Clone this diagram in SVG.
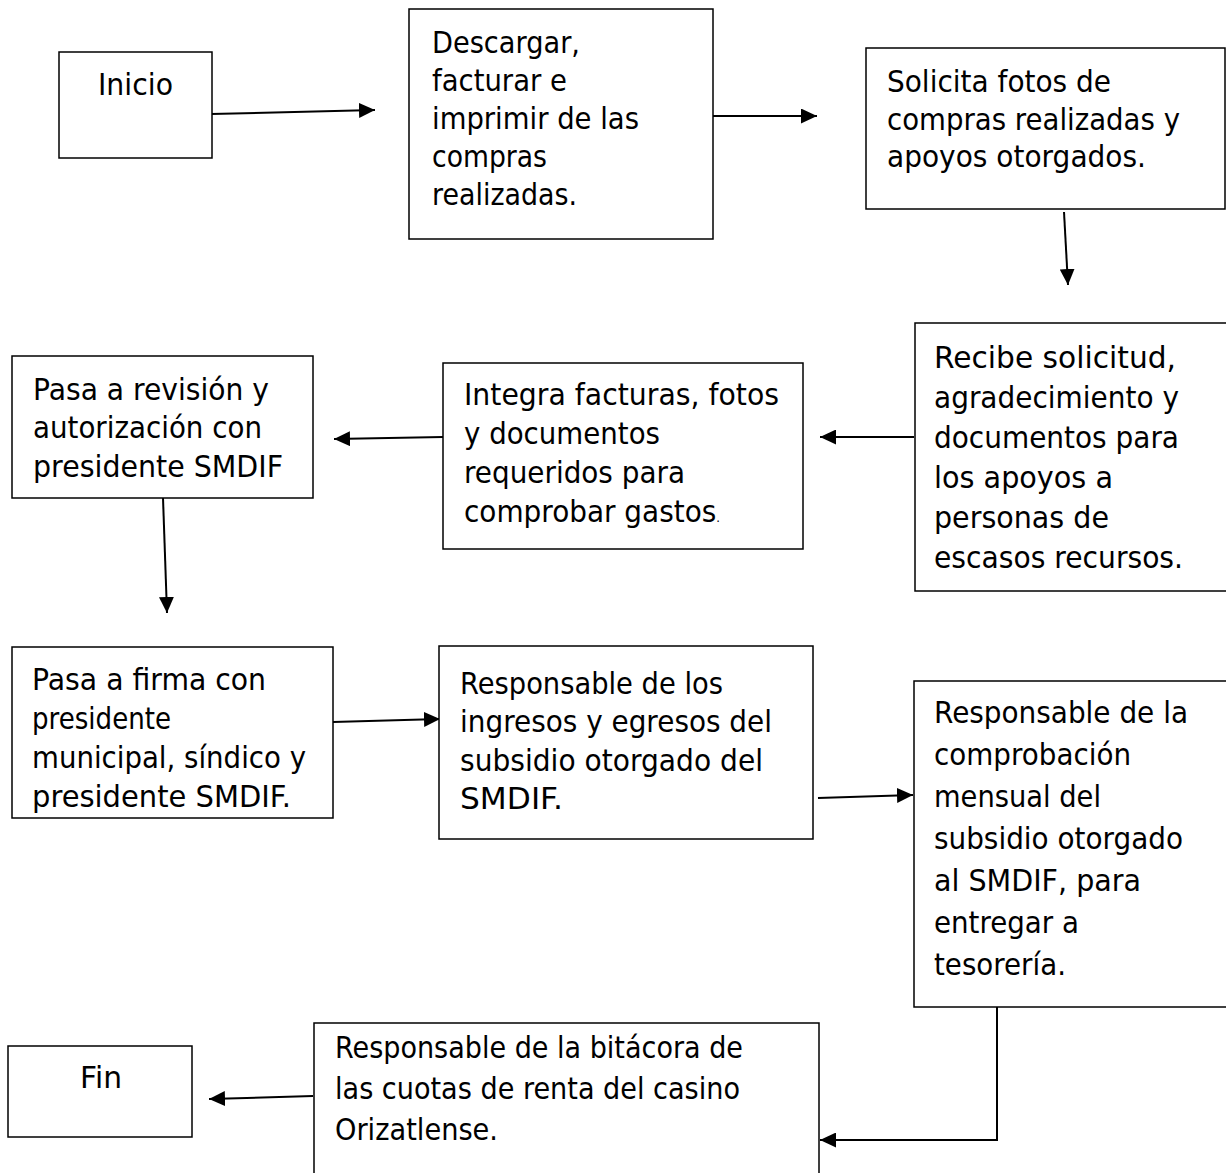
<svg xmlns="http://www.w3.org/2000/svg" width="1226" height="1173" viewBox="0 0 1226 1173">
<style>
.box{fill:#fff;stroke:#000;stroke-width:1.5}
.t{font-family:"DejaVu Sans","Liberation Sans",sans-serif;font-size:31px;fill:#000}
.c{fill:none;stroke:#000;stroke-width:2}
</style>
<defs>
<marker id="ah" markerUnits="userSpaceOnUse" markerWidth="16" markerHeight="15" refX="16" refY="7.5" orient="auto" viewBox="0 0 16 15">
<path d="M0,0 L16,7.5 L0,15 z" fill="#000"/>
</marker>
</defs>
<rect width="1226" height="1173" fill="#fff"/>
<g id="connectors">
<line class="c" x1="211" y1="114" x2="375" y2="110" marker-end="url(#ah)"/>
<line class="c" x1="713" y1="116" x2="817" y2="116" marker-end="url(#ah)"/>
<line class="c" x1="1064" y1="212" x2="1068" y2="285" marker-end="url(#ah)"/>
<line class="c" x1="914" y1="437" x2="820" y2="437" marker-end="url(#ah)"/>
<line class="c" x1="443" y1="437" x2="334" y2="439" marker-end="url(#ah)"/>
<line class="c" x1="163" y1="498" x2="167" y2="613" marker-end="url(#ah)"/>
<line class="c" x1="333" y1="722" x2="440" y2="719" marker-end="url(#ah)"/>
<line class="c" x1="818" y1="798" x2="913" y2="795" marker-end="url(#ah)"/>
<polyline class="c" points="997,1007 997,1140 820,1140" marker-end="url(#ah)"/>
<line class="c" x1="313" y1="1096" x2="209" y2="1099" marker-end="url(#ah)"/>
</g>
<g id="inicio">
<rect class="box" x="59" y="52" width="153" height="106"/>
<text class="t" x="98" y="95" textLength="75" lengthAdjust="spacingAndGlyphs">Inicio</text>
</g>
<g id="descargar">
<rect class="box" x="409" y="9" width="304" height="230"/>
<text class="t" x="432" y="53" textLength="148" lengthAdjust="spacingAndGlyphs">Descargar,</text>
<text class="t" x="432" y="91" textLength="135" lengthAdjust="spacingAndGlyphs">facturar e</text>
<text class="t" x="432" y="129" textLength="207" lengthAdjust="spacingAndGlyphs">imprimir de las</text>
<text class="t" x="432" y="167" textLength="115" lengthAdjust="spacingAndGlyphs">compras</text>
<text class="t" x="432" y="205" textLength="145" lengthAdjust="spacingAndGlyphs">realizadas.</text>
</g>
<g id="solicita">
<rect class="box" x="866" y="48" width="359" height="161"/>
<text class="t" x="887" y="92" textLength="224" lengthAdjust="spacingAndGlyphs">Solicita fotos de</text>
<text class="t" x="887" y="130" textLength="293" lengthAdjust="spacingAndGlyphs">compras realizadas y</text>
<text class="t" x="887" y="167" textLength="259" lengthAdjust="spacingAndGlyphs">apoyos otorgados.</text>
</g>
<g id="recibe">
<rect class="box" x="915" y="323" width="314" height="268"/>
<text class="t" x="934" y="368" textLength="242" lengthAdjust="spacingAndGlyphs">Recibe solicitud,</text>
<text class="t" x="934" y="408" textLength="245" lengthAdjust="spacingAndGlyphs">agradecimiento y</text>
<text class="t" x="934" y="448" textLength="245" lengthAdjust="spacingAndGlyphs">documentos para</text>
<text class="t" x="934" y="488" textLength="179" lengthAdjust="spacingAndGlyphs">los apoyos a</text>
<text class="t" x="934" y="528" textLength="175" lengthAdjust="spacingAndGlyphs">personas de</text>
<text class="t" x="934" y="568" textLength="249" lengthAdjust="spacingAndGlyphs">escasos recursos.</text>
</g>
<g id="integra">
<rect class="box" x="443" y="363" width="360" height="186"/>
<text class="t" x="464" y="405" textLength="315" lengthAdjust="spacingAndGlyphs">Integra facturas, fotos</text>
<text class="t" x="464" y="444" textLength="196" lengthAdjust="spacingAndGlyphs">y documentos</text>
<text class="t" x="464" y="483" textLength="221" lengthAdjust="spacingAndGlyphs">requeridos para</text>
<text class="t" x="464" y="522" textLength="256" lengthAdjust="spacingAndGlyphs">comprobar gastos<tspan font-size="13">.</tspan></text>
</g>
<g id="revision">
<rect class="box" x="12" y="356" width="301" height="142"/>
<text class="t" x="33" y="400" textLength="236" lengthAdjust="spacingAndGlyphs">Pasa a revisión y</text>
<text class="t" x="33" y="438" textLength="229" lengthAdjust="spacingAndGlyphs">autorización con</text>
<text class="t" x="33" y="477" textLength="250" lengthAdjust="spacingAndGlyphs">presidente SMDIF</text>
</g>
<g id="firma">
<rect class="box" x="12" y="647" width="321" height="171"/>
<text class="t" x="32" y="690" textLength="234" lengthAdjust="spacingAndGlyphs">Pasa a firma con</text>
<text class="t" x="32" y="729" textLength="139" lengthAdjust="spacingAndGlyphs">presidente</text>
<text class="t" x="32" y="768" textLength="274" lengthAdjust="spacingAndGlyphs">municipal, síndico y</text>
<text class="t" x="32" y="807" textLength="259" lengthAdjust="spacingAndGlyphs">presidente SMDIF.</text>
</g>
<g id="ingresos">
<rect class="box" x="439" y="646" width="374" height="193"/>
<text class="t" x="460" y="694" textLength="263" lengthAdjust="spacingAndGlyphs">Responsable de los</text>
<text class="t" x="460" y="732" textLength="312" lengthAdjust="spacingAndGlyphs">ingresos y egresos del</text>
<text class="t" x="460" y="771" textLength="303" lengthAdjust="spacingAndGlyphs">subsidio otorgado del</text>
<text class="t" x="460" y="809" textLength="103" lengthAdjust="spacingAndGlyphs">SMDIF.</text>
</g>
<g id="comprobacion">
<rect class="box" x="914" y="681" width="315" height="326"/>
<text class="t" x="934" y="723" textLength="254" lengthAdjust="spacingAndGlyphs">Responsable de la</text>
<text class="t" x="934" y="765" textLength="197" lengthAdjust="spacingAndGlyphs">comprobación</text>
<text class="t" x="934" y="807" textLength="167" lengthAdjust="spacingAndGlyphs">mensual del</text>
<text class="t" x="934" y="849" textLength="249" lengthAdjust="spacingAndGlyphs">subsidio otorgado</text>
<text class="t" x="934" y="891" textLength="207" lengthAdjust="spacingAndGlyphs">al SMDIF, para</text>
<text class="t" x="934" y="933" textLength="145" lengthAdjust="spacingAndGlyphs">entregar a</text>
<text class="t" x="934" y="975" textLength="132" lengthAdjust="spacingAndGlyphs">tesorería.</text>
</g>
<g id="bitacora">
<rect class="box" x="314" y="1023" width="505" height="160"/>
<text class="t" x="335" y="1058" textLength="408" lengthAdjust="spacingAndGlyphs">Responsable de la bitácora de</text>
<text class="t" x="335" y="1099" textLength="405" lengthAdjust="spacingAndGlyphs">las cuotas de renta del casino</text>
<text class="t" x="335" y="1140" textLength="163" lengthAdjust="spacingAndGlyphs">Orizatlense.</text>
</g>
<g id="fin">
<rect class="box" x="8" y="1046" width="184" height="91"/>
<text class="t" x="80" y="1088" textLength="42" lengthAdjust="spacingAndGlyphs">Fin</text>
</g>
</svg>
